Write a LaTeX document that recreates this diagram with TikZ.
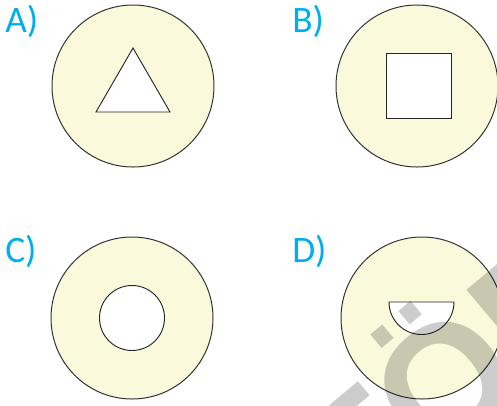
\documentclass[tikz,border=0pt]{standalone}
\usepackage{fontspec}
\newfontfamily\labelfont{Carlito}
\newfontfamily\wmfont{Liberation Sans}
\definecolor{disc}{RGB}{250,249,219}
\definecolor{lbl}{RGB}{0,174,239}
\def\px{0.75pt}
\tikzset{
  disk/.style={draw=black!80, line width=0.75pt, fill=disc},
  hole/.style={draw=black!85, line width=0.7pt, fill=white, line join=miter},
  lab/.style={anchor=base west, inner sep=0pt, text=lbl, font=\labelfont\fontsize{28pt}{28pt}\selectfont},
  wm/.style={anchor=base, inner sep=0pt, text=black, text opacity=0.2, rotate=40,
    font=\wmfont\bfseries\fontsize{124pt}{124pt}\selectfont}
}
\begin{document}
\begin{tikzpicture}[x=0.75pt, y=-0.75pt]
\useasboundingbox (0,0) rectangle (497,405);
\clip (0,0) rectangle (497,405);
\fill[white] (0,0) rectangle (497,405);
% labels
\node[lab] (la) at (5,32) {A)};
\node[lab] (lb) at (292,32) {B)};
\node[lab] (lc) at (5,262) {C)};
\node[lab] (ld) at (292,262) {D)};
% A
\coordinate (ca) at (133,86);
\draw[disk] (ca) circle[radius=81*\px];
\draw[hole] (133,48) -- (170,112) -- (96,112) -- cycle;
% B
\coordinate (cb) at (417,86);
\draw[disk] (cb) circle[radius=81*\px];
\draw[hole] (386,53) rectangle (451,118);
% C
\coordinate (cc) at (132,318);
\draw[disk] (cc) circle[radius=81*\px];
\draw[hole] (cc) circle[radius=32.5*\px];
% D
\coordinate (cd) at (422,318);
\draw[disk] (cd) circle[radius=81*\px];
\draw[hole] (389,302) -- (454,302) arc[start angle=0, end angle=-180, radius=32.5*\px] -- cycle;
% watermark
\node[wm] (wm) at (489,420) {TÖD};
\end{tikzpicture}
\end{document}
